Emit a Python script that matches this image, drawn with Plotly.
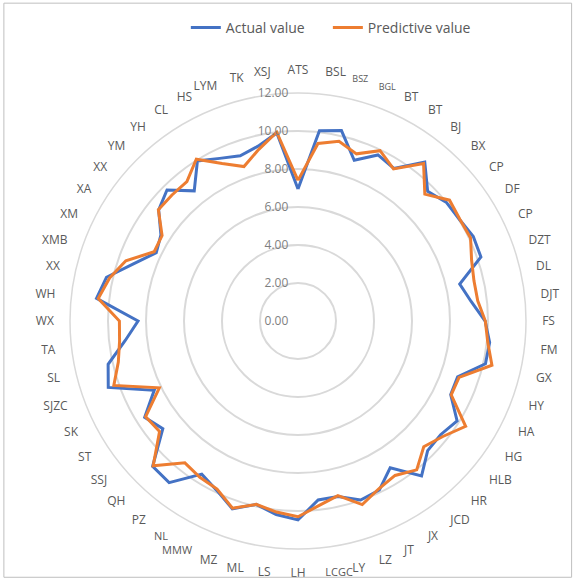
import plotly.graph_objects as go

categories = ["ATS", "BSL", "BSZ", "BGL", "BT", "BT", "BJ", "BX", "CP", "DF",
              "CP", "DZT", "DL", "DJT", "FS", "FM", "GX", "HY", "HA", "HG",
              "HLB", "HR", "JCD", "JX", "JT", "LZ", "LY", "LCGC", "LH", "LS",
              "ML", "MZ", "MMW", "NL", "PZ", "QH", "SSJ", "ST", "SK", "SJZC",
              "SL", "TA", "WX", "WH", "XX", "XMB", "XM", "XA", "XX", "YM",
              "YH", "CL", "HS", "LYM", "TK", "XSJ"]

actual = [6.95, 10.08, 10.28, 8.96, 9.70, 9.48, 10.70, 9.65, 10.00, 10.04,
          10.24, 10.20, 8.73, 9.17, 9.85, 10.15, 10.12, 8.90, 8.92, 9.89,
          9.60, 9.65, 10.43, 9.12, 9.87, 9.98, 9.47, 9.48, 10.47, 10.25,
          9.90, 10.47, 9.88, 9.52, 10.88, 10.82, 9.10, 9.53, 8.40, 10.58,
          10.25, 9.15, 8.42, 10.67, 10.34, 9.15, 8.28, 8.52, 9.38, 9.75,
          8.76, 9.95, 9.50, 9.21, 9.44, 9.96]

predictive = [7.40, 9.40, 9.70, 9.32, 9.95, 9.45, 10.60, 9.44, 10.20, 10.06,
              10.08, 9.68, 9.50, 9.52, 9.86, 10.05, 10.47, 8.98, 8.95, 10.42,
              9.75, 9.36, 10.02, 9.60, 9.80, 10.24, 9.43, 9.78, 10.30, 10.12,
              9.90, 10.44, 9.82, 9.71, 9.55, 10.78, 9.32, 9.47, 8.10, 10.27,
              9.70, 9.45, 9.40, 10.58, 10.17, 9.60, 8.40, 8.45, 9.40, 9.38,
              9.38, 10.06, 9.20, 8.61, 9.27, 10.00]

radial_ticks = [0, 2, 4, 6, 8, 10, 12]
small_labels = {2: 9, 3: 9, 27: 11, 32: 11, 33: 11}

n = len(categories)
theta = [i * 360.0 / n for i in range(n)]
tick_text = [f'<span style="font-size:{small_labels[i]}px">{c}</span>' if i in small_labels else c
             for i, c in enumerate(categories)]

fig = go.Figure()
fig.add_trace(go.Scatterpolar(
    r=actual + actual[:1], theta=theta + theta[:1], mode="lines",
    name="Actual value\u00a0\u00a0\u00a0\u00a0\u00a0", line=dict(color="#4472C4", width=3)))
fig.add_trace(go.Scatterpolar(
    r=predictive + predictive[:1], theta=theta + theta[:1], mode="lines",
    name="Predictive value", line=dict(color="#ED7D31", width=3)))

fig.update_layout(
    width=578, height=581,
    paper_bgcolor="white", plot_bgcolor="white",
    margin=dict(l=70, r=52, t=93, b=32, autoexpand=False),
    font=dict(family="Open Sans, Liberation Sans, sans-serif", color="#595959"),
    polar=dict(
        bgcolor="white",
        domain=dict(x=[0, 1], y=[0, 1]),
        angularaxis=dict(
            rotation=90, direction="clockwise", thetaunit="degrees",
            tickmode="array", tickvals=theta, ticktext=tick_text,
            showgrid=False, showline=True, linecolor="#d9d9d9", linewidth=1.5,
            ticks="outside", ticklen=13, tickcolor="rgba(0,0,0,0)",
            tickfont=dict(size=12, color="#595959"),
        ),
        radialaxis=dict(
            range=[0, 12], tickvals=radial_ticks, tickformat=".2f",
            angle=90, side="counterclockwise", tickangle=90,
            showline=False, ticks="outside", ticklen=5, tickcolor="rgba(0,0,0,0)",
            gridcolor="#d9d9d9", gridwidth=1.5,
            tickfont=dict(size=12, color="#7f7f7f"),
        ),
    ),
    legend=dict(orientation="h", x=0.572, xanchor="center", y=1.1425, yanchor="middle",
                font=dict(size=14, color="#595959")),
    showlegend=True,
)

fig.add_shape(type="rect", xref="paper", yref="paper",
              x0=-0.145, x1=1.1, y0=-0.062, y1=1.197,
              line=dict(color="#bfbfbf", width=1), fillcolor="rgba(0,0,0,0)")

fig.write_html("out.html", post_script="document.body.style.margin='0';",
               config={"displayModeBar": False})
